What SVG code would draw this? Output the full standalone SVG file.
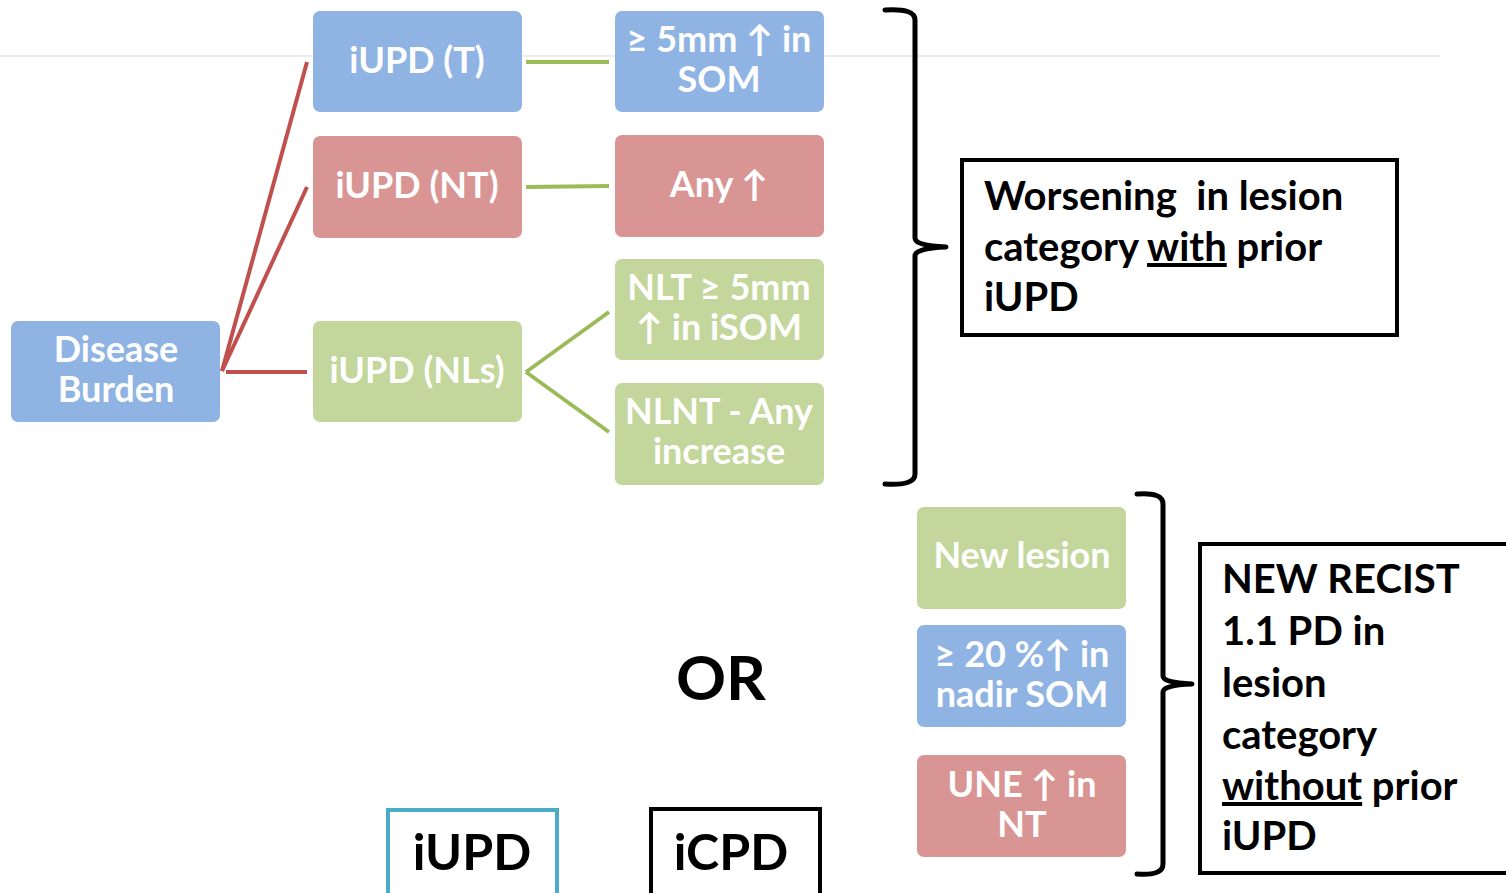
<svg xmlns="http://www.w3.org/2000/svg" width="1506" height="893" viewBox="0 0 1506 893">
  <style>
    .node { stroke: none; }
    .blue { fill: #8fb4e3; }
    .pink { fill: #d99594; }
    .green { fill: #c3d69b; }
    .lbl { font-family: Lato, "Open Sans", sans-serif; font-weight: bold; font-size: 36px; fill: #ffffff; text-anchor: middle; }
    .blk { font-family: Lato, "Open Sans", sans-serif; font-weight: bold; font-size: 40px; fill: #000000; }
    .red-line { stroke: #c0504d; stroke-width: 4; fill: none; }
    .green-line { stroke: #9bbb59; stroke-width: 4; fill: none; }
    .brace { stroke: #000000; stroke-width: 5; fill: none; stroke-linecap: round; stroke-linejoin: round; }
    .frame { fill: #ffffff; stroke: #000000; stroke-width: 4; }
  </style>

  <rect width="1506" height="893" fill="#ffffff"/>
  <line x1="0" y1="56" x2="1440" y2="56" stroke="#ececec" stroke-width="2"/>

  <g id="connectors">
    <line class="red-line" x1="222" y1="371" x2="307" y2="62"/>
    <line class="red-line" x1="222" y1="371" x2="307" y2="187"/>
    <line class="red-line" x1="226" y1="372" x2="307" y2="372"/>
    <line class="green-line" x1="526" y1="62" x2="609" y2="62"/>
    <line class="green-line" x1="526" y1="187" x2="609" y2="186"/>
    <line class="green-line" x1="526" y1="372" x2="609" y2="312"/>
    <line class="green-line" x1="526" y1="372" x2="609" y2="432"/>
  </g>

  <g id="disease-burden">
    <rect class="node blue" x="11" y="321" width="209" height="101" rx="7"/>
    <text class="lbl" x="116" y="362">Disease</text>
    <text class="lbl" x="116" y="402">Burden</text>
  </g>
  <g id="iupd-t">
    <rect class="node blue" x="313" y="11" width="209" height="101" rx="7"/>
    <text class="lbl" x="417" y="73">iUPD (T)</text>
  </g>
  <g id="iupd-nt">
    <rect class="node pink" x="313" y="136" width="209" height="102" rx="7"/>
    <text class="lbl" x="417" y="198">iUPD (NT)</text>
  </g>
  <g id="iupd-nls">
    <rect class="node green" x="313" y="321" width="209" height="101" rx="7"/>
    <text class="lbl" x="417" y="383">iUPD (NLs)</text>
  </g>
  <g id="som-5mm">
    <rect class="node blue" x="615" y="11" width="209" height="101" rx="7"/>
    <text class="lbl" x="719" y="52">≥ 5mm ↑ in</text>
    <text class="lbl" x="719" y="92">SOM</text>
  </g>
  <g id="any-increase">
    <rect class="node pink" x="615" y="135" width="209" height="102" rx="7"/>
    <text class="lbl" x="719" y="197">Any ↑</text>
  </g>
  <g id="nlt">
    <rect class="node green" x="615" y="259" width="209" height="101" rx="7"/>
    <text class="lbl" x="719" y="300">NLT ≥ 5mm</text>
    <text class="lbl" x="719" y="340">↑ in iSOM</text>
  </g>
  <g id="nlnt">
    <rect class="node green" x="615" y="383" width="209" height="102" rx="7"/>
    <text class="lbl" x="719" y="424">NLNT - Any</text>
    <text class="lbl" x="719" y="464">increase</text>
  </g>
  <g id="new-lesion">
    <rect class="node green" x="917" y="507" width="209" height="102" rx="7"/>
    <text class="lbl" x="1022" y="568">New lesion</text>
  </g>
  <g id="nadir-som">
    <rect class="node blue" x="917" y="625" width="209" height="102" rx="7"/>
    <text class="lbl" x="1022" y="667">≥ 20 %↑ in</text>
    <text class="lbl" x="1022" y="707">nadir SOM</text>
  </g>
  <g id="une-nt">
    <rect class="node pink" x="917" y="755" width="209" height="102" rx="7"/>
    <text class="lbl" x="1022" y="797">UNE ↑ in</text>
    <text class="lbl" x="1022" y="837">NT</text>
  </g>

  <g id="brace-upper">
    <path class="brace" d="M885,10 Q915,8 915,20 L915,238 Q915,246 946,247 Q915,248 915,256 L915,474 Q915,486 885,484"/>
  </g>
  <g id="brace-lower">
    <path class="brace" d="M1137,494 Q1163,492 1163,504 L1163,676 Q1163,683 1192,684 Q1163,685 1163,692 L1163,864 Q1163,876 1137,874"/>
  </g>

  <g id="with-prior">
    <rect class="frame" x="962" y="160" width="435" height="175"/>
    <text class="blk" x="984" y="210" xml:space="preserve">Worsening  in lesion</text>
    <text class="blk" x="984" y="261">category <tspan text-decoration="underline">with</tspan> prior</text>
    <text class="blk" x="984" y="311">iUPD</text>
  </g>
  <g id="without-prior">
    <rect class="frame" x="1200" y="544" width="320" height="329"/>
    <text class="blk" x="1222" y="593">NEW RECIST</text>
    <text class="blk" x="1222" y="645">1.1 PD in</text>
    <text class="blk" x="1222" y="697">lesion</text>
    <text class="blk" x="1222" y="749">category</text>
    <text class="blk" x="1222" y="800"><tspan text-decoration="underline">without</tspan> prior</text>
    <text class="blk" x="1222" y="850">iUPD</text>
  </g>

  <text id="or" x="721" y="700" font-family="Lato, 'Open Sans', sans-serif" font-weight="bold" font-size="62" text-anchor="middle" fill="#000000">OR</text>

  <g id="iupd-key">
    <rect x="388" y="810" width="169" height="90" fill="#ffffff" stroke="#4bacc6" stroke-width="4"/>
    <text x="472" y="870" font-family="Lato, 'Open Sans', sans-serif" font-weight="bold" font-size="50" text-anchor="middle" fill="#000000">iUPD</text>
  </g>
  <g id="icpd-key">
    <rect x="651" y="809" width="169" height="90" fill="#ffffff" stroke="#000000" stroke-width="4"/>
    <text x="731" y="870" font-family="Lato, 'Open Sans', sans-serif" font-weight="bold" font-size="50" text-anchor="middle" fill="#000000">iCPD</text>
  </g>
</svg>
